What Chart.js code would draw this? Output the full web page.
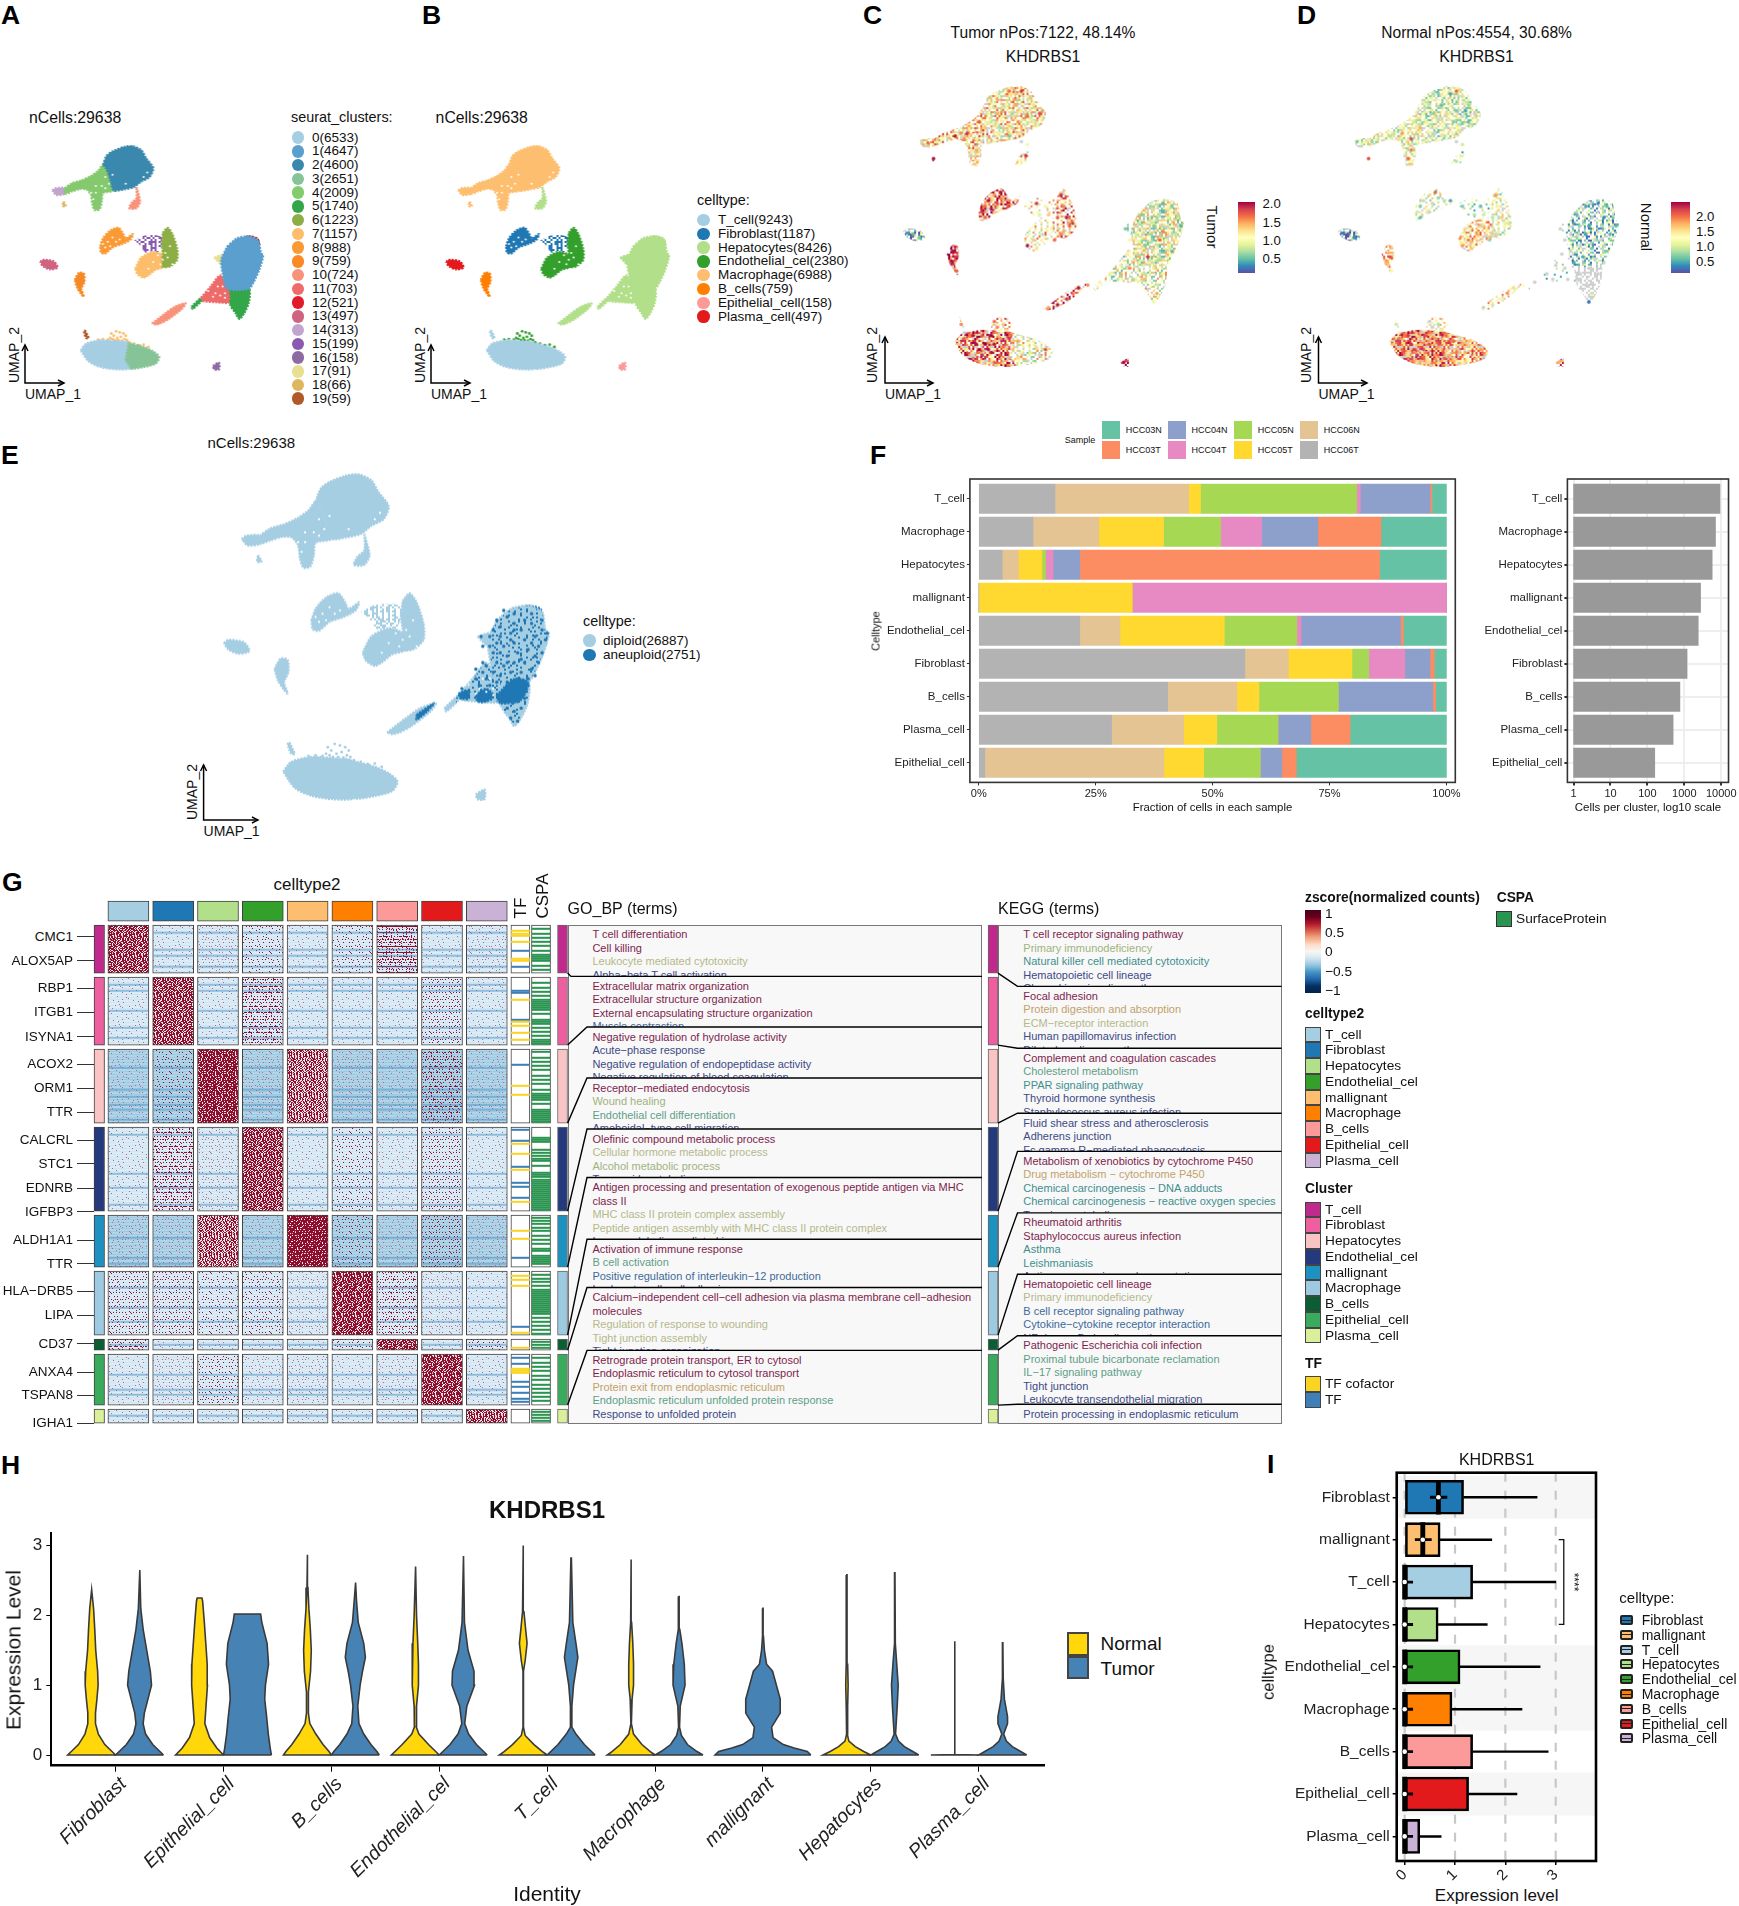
<!DOCTYPE html>
<html>
<head>
<meta charset="utf-8">
<script src="https://cdn.jsdelivr.net/npm/chart.js"></script>
<style>
html, body { margin: 0; background: #fff; }
#page { position: relative; width: 1739px; height: 1906px; overflow: hidden; font-family: "Liberation Sans", Arial, sans-serif; color: #111; }
#page canvas, #page svg { position: absolute; }
.t { position: absolute; white-space: nowrap; line-height: 1; }
.b { position: absolute; box-sizing: border-box; }
</style>
</head>
<body>
<div id="page"></div>
<script>
// ---- UMAP outlines ----
const umapTop = [[43,96.5],[44.5,100.5],[47,102.5],[52,104.5],[55.5,104.8],[59,103],[61,99.5],[64,95],[62.5,91],[59,89],[56,86.5],[52,85.5],[47.5,85],[46,90],[44.5,94.5]];
const umapArmLeft = [[27,86],[30,88.2],[34,89.5],[38,91.5],[41,93.8],[43,96.5],[44.5,94.5],[46,90],[47.5,85],[43,83.8],[42.5,80],[41.5,76.5],[39.5,76.2],[38.5,79],[38,83],[36,85.5],[33,85.5],[30,84.5],[27,83.5]];
const umapTip = [[21.8,85],[23.2,86],[27,86],[27,83.5],[23.5,83]];
const umapMini = [[26.5,80],[27.5,78],[26.2,78]];
const umapArmRight = [[57,86.5],[58.5,80],[57,77],[54,77],[55,79.5],[57,81.5]];
const umapCrescent = [[41.8,60],[43,63.5],[46,67],[49.5,68.3],[51.5,65.5],[52.5,63.5],[55.5,65.5],[54.5,63],[51,61],[47,59.5],[44,56.8],[42.2,57.2]];
const umapSparse = [[56,62.5],[60,64.7],[65,65],[67.5,64],[66.5,57.5],[64,58],[61,57],[58,61]];
const umapLeaf = [[68,66],[70,68.3],[72,65.5],[74,59],[74,54],[71,51],[68,51],[68,57],[67.5,61]];
const umapLower = [[56.5,50],[59,55],[64,57.5],[68,56],[69,51],[65,49.5],[62,47],[60,46],[57.5,47.5]];
const umapSmallLeft = [[16.7,53],[18,54],[22.5,53.2],[24,50.5],[21,49.7],[18,51]];
const umapSmallOrange = [[31.2,45],[33,48.2],[35,47.8],[35.2,44],[34,41],[35,37.5],[34,38.5],[32.2,41.5]];
const umapBody = [[95,60],[99,63.5],[104,64.5],[108,62.5],[109,57],[110,56],[108.5,50],[106,44],[104,41],[95,41],[93,48],[92.5,54]];
const umapBigTop = [[101.5,63.5],[104,64.5],[107.5,63.5],[108.2,60.5],[106,59.5],[102,61]];
const umapBigLeft = [[84,37],[88,42],[92,47],[95,42],[95.5,35],[90,35],[85,35.5]];
const umapBigBottom = [[95,41],[104,41],[104,35],[102,30],[100,27.5],[98.5,30],[96,34]];
const umapBigYellow = [[89.5,55],[93,56],[92.5,52]];
const umapTail = [[63.5,25.5],[69,30],[73,33],[77.5,34.5],[76,32],[70.5,27.5],[67,25.5],[65,25]];
const umapThin = [[80,33],[84,37],[84.5,36],[80.5,32]];
const umapBottomLeft = [[33.7,13.5],[36,16.5],[42,18],[50,17.5],[53,17],[52,9],[54,5.3],[48,5],[42,6],[37,8.5]];
const umapBottomRight = [[53,17],[60,15],[64,13],[66.5,10.5],[65,7.5],[60,6],[54,5.3],[52,9]];
const umapBits = [[46,18],[46.5,21.5],[49.5,22.5],[52.5,21.5],[52.5,17.5]];
const umapStem = [[35.5,22.5],[37,19],[36,19],[35,22]];
const umapLone = [[89,6.5],[91.5,8],[91.5,5],[89.5,5]];
const umapRegions = [umapTop,umapArmLeft,umapTip,umapMini,umapArmRight,umapCrescent,umapSparse,umapLeaf,umapLower,umapSmallLeft,umapSmallOrange,umapBody,umapBigTop,umapBigLeft,umapBigBottom,umapBigYellow,umapTail,umapThin,umapBottomLeft,umapBottomRight,umapBits,umapStem,umapLone];

// loose cells above the bottom cloud, drawn instead of the umapBits outline in A, B, E
const umapBitsDots = [[46,19],[46.5,21],[47.5,20],[48.5,22],[49,19],[50,21.5],[50.5,19.5],[51.5,21],[52,18.5],[52.5,20],[47,18.5],[49.5,18],[51,17.8],[48,18],[45,18.3],[43,18.5],[41,18.3],[53,18],[54,17],[56,16.5],[58,15.8],[60,16],[62,15]];

// white holes in the cell clouds
const umapGaps = [[37,82],[38,84],[40,84],[42.5,87],[44,86],[45.5,88],[47,92],[44,91],[40,87],[30,83.5],[34,85],[60,91],[61.5,93],[58,87],[52.5,88],[39,81],[45,62],[47,64],[46,60],[48.5,62],[50,63],[44,59.5],[43,61],[68,54],[70,55],[72,52],[66,56],[67,52],[69,57],[71,60],[64,53],[62,50],[91,42],[92,38],[90,39],[87,40],[93,42],[94,39],[89,37.5],[96,33],[94,37],[93,34]];

// panel C / D expression spots
const spotsTop = [[46,97],[48,100],[50,102],[52,103],[54,102],[56,103],[58,101],[60,98],[62,95],[60,92],[57,90],[55,92],[53,95],[50,93],[48,95],[46,92],[49,88],[52,87],[55,88],[58,94],[51,98],[54,98],[56,96],[49,90],[47,87],[44,90],[42,92],[40,89],[38,88],[36,88],[34,87],[32,87],[30,86],[28,85],[25,84.5],[23,85],[41,86],[43,85],[41,82],[40,79],[40.5,77],[56,85],[58,84],[57.5,80],[56,78],[26.8,79],[59,96],[53,90],[45,95],[37,86]];
const spotsMid = [[43,60],[44,62],[45,64],[47,66],[49,67],[50,65],[48,63],[46,61],[44,58],[47,60],[52,64],[54,64],[58,62],[61,63],[64,62],[62,59],[65,59],[69,66],[70,62],[71,58],[72,55],[70,53],[68,58],[73,56],[69,52],[66,54],[63,52],[60,50],[58,48],[61,47],[64,51],[67,50],[59,54],[18,52.5],[20,52],[22,51],[33,46],[34,44],[33,42],[34.5,39]];
const spotsBig = [[96,59],[99,62],[103,63],[106,62],[108,58],[105,58],[101,58],[97,55],[94,52],[99,52],[103,53],[107,52],[105,48],[101,47],[97,48],[94,46],[98,44],[102,43],[106,46],[100,40],[103,38],[97,38],[99,34],[101,31],[100,28],[91,45],[89,41],[86,38],[92,40],[88,36],[93,36],[96,36],[95,42],[109,55],[95,56],[103,60],[100,55],[104,50],[96,51],[102,50],[75,33],[73,31],[71,29],[68,27],[65,26],[82,35],[78,34],[90.5,54],[105,42],[92,50]];
const spotsBottom = [[35,13],[37,15],[40,16],[43,16],[46,16],[49,15],[52,15],[55,14],[58,13],[61,12],[64,11],[38,11],[41,13],[44,13],[47,13],[50,12],[53,11],[56,10],[59,10],[62,9],[40,9],[43,9],[46,10],[49,9],[52,8],[55,8],[58,7],[44,7],[47,6.5],[50,6],[37,17],[48,19],[50,20],[47,21],[51,18],[45,11],[42,11],[60,14],[90,6.5],[36,20]];
const tumorTop = [1.2,1.5,1.1,1.7,1.4,1.9,1.0,1.3,1.8,.9,1.2,1.6,.7,1.1,1.5,.8,1.0,.6,1.3,1.7,1.0,1.5,1.2,.7,0,1.4,1.8,1.1,1.9,1.6,2.0,1.3,1.0,.9,1.7,.8,1.2,0,1.5,1.1,1.4,0,1.0,1.9,1.2,2.0,1.3,.8,1.0,1.6];
const normalTop = [.9,1.2,.7,1.4,.5,2.1,1.0,.8,0,.6,1.3,.7,1.6,0,.8,1.1,0,.9,1.4,0,.6,1.2,.7,1.5,0,1.8,1.0,1.4,1.9,1.2,.9,1.3,1.0,.8,1.1,.7,2.2,1.3,2.0,2.1,1.7,0,1.0,1.1,.9,2.2,.5,0,1.2,1.6];
const tumorMid = [1.9,1.7,2.0,1.6,2.0,1.5,1.8,2.0,1.7,1.4,1.6,1.3,1.1,1.9,1.2,.9,1.4,1.9,1.6,2.0,1.7,1.5,1.8,1.9,1.6,1.2,0,1.4,2.0,1.3,1.0,1.7,1.1,.4,.5,.6,2.0,1.9,2.0,1.7];
const normalMid = [1.0,.7,0,1.6,2.1,.8,0,1.2,.6,0,.9,.5,.7,1.3,.6,.9,1.0,1.9,1.4,1.7,1.2,1.1,.9,1.6,0,1.5,1.8,2.0,1.9,1.7,1.4,.8,1.6,.3,.2,.4,1.6,2.2,1.8,1.4];
const tumorBig = [.6,.7,.5,.6,.8,.9,.7,1.1,.9,.7,1.6,.8,.9,1.2,.6,1.0,1.9,.7,.5,1.3,1.0,.8,1.1,1.5,1.0,1.2,.9,1.0,1.6,.8,.7,1.4,.9,.5,.8,.5,.6,1.0,.9,1.7,2.0,1.7,1.9,2.0,1.5,1.2,1.6,.6,1.1,1.0];
const normalBig = [.6,.5,.4,.6,.7,.4,0,.8,0,.5,0,.6,0,.7,0,0,.5,0,.7,0,0,0,0,1.0,.3,0,0,0,0,0,0,0,.5,.6,.5,0,.5,0,.8,0,1.6,1.9,1.2,1.0,0,0,1.3,0,0,0];
const tumorBottom = [1.4,1.7,2.0,1.8,2.1,1.6,1.9,1.5,1.1,1.3,1.8,1.0,2.0,2.1,2.0,1.7,1.4,1.2,.9,0,0,1.9,2.0,1.8,1.5,1.3,0,0,1.7,1.4,0,1.6,1.4,1.7,1.3,2.0,2.1,1.2,2.0,1.6];
const normalBottom = [1.7,2.0,2.3,1.6,2.2,1.9,1.5,2.1,1.8,1.4,1.9,2.1,2.3,1.7,2.2,1.9,1.6,2.0,1.8,1.5,1.6,2.3,2.0,1.9,2.1,1.7,1.4,1.8,1.6,1.5,1.2,0,.9,0,1.1,2.2,2.3,1.7,1.8,1.0];

// panel E aneuploid cells
const aneuploidSpots = [[96,58],[98,61],[100,59],[96,55],[99,56],[102,57],[105,59],[108,57],[106,55],[103,54],[100,53],[97,52],[94,50],[95,53],[93,55],[98,49],[101,50],[104,51],[107,52],[109,54],[106,49],[103,47],[100,47],[97,46],[95,47],[92,46],[94,44],[91,44],[89,42],[92,42],[99,44],[102,44],[105,45],[107,47],[104,42],[101,41],[98,41],[95,41],[93,40],[90,40],[87,38],[85,39],[103,38],[100,37],[97,37],[98,33],[100,32],[102,33],[101,29],[99,30],[90.5,55],[91,52],[95,60],[100,62],[97,63],[109.5,56],[108,60],[105,62],[93,52],[96,50],[99,54],[102,48],[105,53],[108,50],[91,47],[89,45],[94,57],[103,60],[100,57],[98,47],[96,43],[104,40],[106,43],[101,35],[103,36]];
const aneuploidPatches = [[[72,31],[77,34.5],[75,32],[72,29.5]],[[89,37],[92,39],[94,37],[92,35],[89.5,35]],[[95,37],[100,42],[104,41],[102,35.5],[96,34.5]],[[84,37.5],[86.5,38.5],[87,36],[84.5,36]]];
const aneuploidCover = [0,0,0,0,0,0,0,0,0,0,0,.1,0,.16,.08,0,0,.1,0,0,0,0,0];

// region colours per panel, same order as umapRegions
const clusterFills = ['#3a88ae','#85c96e','#c2a5cf','#e0b560','#f7937a','#fb9a35','#8a5ab0','#8cae45','#fdbd6a','#cf6380','#f58a25','#5a9fce','#e31a2a','#ef6a6a','#33a64a','#e6e090','#f7937a','#33a64a','#a6cee3','#86c497','#fdbd6a','#b15928','#8e6aa2'];
const celltypeFills = ['#fdbf6f','#fdbf6f','#fdbf6f','#fdbf6f','#b2df8a','#1f78b4','#1f78b4','#33a02c','#33a02c','#e31a1c','#ff7f00','#b2df8a','#b2df8a','#b2df8a','#b2df8a','#b2df8a','#b2df8a','#b2df8a','#a6cee3','#a6cee3','#33a02c','#a6cee3','#fb9a99'];
// mean expression and how much of each region is covered, panels C and D
const tumorRegionMean = [1.2,1.3,1.2,1.5,1.2,1.7,1.2,1.5,1.2,.5,1.9,1.0,.8,1.0,1.05,.6,1.7,1.2,1.6,1.1,1.4,1.4,1.9];
const tumorRegionCover = [.75,.7,.7,.4,.35,.8,.15,.55,.3,.7,.85,.8,.8,.5,.5,.3,.45,.2,.85,.45,.3,.3,.6];
const normalRegionMean = [1.1,1.2,1.1,.9,.9,1.2,.9,1.2,1.6,.5,1.8,.7,.6,.8,0,.8,1.5,1,1.95,1.8,1.4,1.2,1.9];
const normalRegionCover = [.65,.65,.6,.2,.15,.2,.12,.4,.7,.65,.65,.45,.35,.03,.45,.03,.25,.02,.95,.88,.3,.2,.6];

// legends
const clusterNames = ['0(6533)','1(4647)','2(4600)','3(2651)','4(2009)','5(1740)','6(1223)','7(1157)','8(988)','9(759)','10(724)','11(703)','12(521)','13(497)','14(313)','15(199)','16(158)','17(91)','18(66)','19(59)'];
const clusterColors = ['#a6cee3','#5a9fce','#3a88ae','#86c497','#82cc6e','#33a64a','#8cae45','#fdbd6a','#fb9a35','#fa8a25','#f7937a','#ef6a6a','#e31a2a','#cf6380','#c2a5cf','#8a5ab0','#8e6aa2','#e6e090','#e0b560','#b15928'];
const typeCountNames = ['T_cell(9243)','Fibroblast(1187)','Hepatocytes(8426)','Endothelial_cel(2380)','Macrophage(6988)','B_cells(759)','Epithelial_cell(158)','Plasma_cell(497)'];
const typeCountColors = ['#a6cee3','#1f78b4','#b2df8a','#33a02c','#fdbf6f','#ff7f00','#fb9a99','#e31a1c'];
const spectralStops = ['#5e4fa2','#3288bd','#66c2a5','#abdda4','#e6f598','#ffffbf','#fee08b','#fdae61','#f46d43','#d53e4f','#9e0142'];

// panel F
const sampleNames = ['HCC06T','HCC06N','HCC05T','HCC05N','HCC04T','HCC04N','HCC03T','HCC03N'];
const sampleColors = ['#b3b3b3','#e5c494','#ffd92f','#a6d854','#e78ac3','#8da0cb','#fc8d62','#66c2a5'];
const fractionTypes = ['T_cell','Macrophage','Hepatocytes','mallignant','Endothelial_cel','Fibroblast','B_cells','Plasma_cell','Epithelial_cell'];
const fractionRows = [
  [16.3,28.6,2.5,33.4,0.8,14.9,0.4,3.1],
  [11.6,14.1,13.8,12.2,8.8,12,13.5,14],
  [5,3.5,5,0.8,1.6,5.7,64.1,14.3],
  [0,0,32.8,0,67.2,0,0,0],
  [21.6,8.6,22.3,15.5,0.9,21.3,0.6,9.2],
  [56.9,9.3,13.6,3.6,7.7,5.4,0.9,2.6],
  [40.4,14.8,4.7,17,0,20.2,0.6,2.3],
  [28.4,15.4,7.1,13.1,0,7,8.4,20.6],
  [1.3,38.3,8.5,12.1,0,4.6,3.1,32.1]
];
const cellsPerCluster = [9243,6988,5675,2751,2380,1187,759,497,158];

// panel G
const heatColumns = ['T_cell','Fibroblast','Hepatocytes','Endothelial_cel','mallignant','Macrophage','B_cells','Epithelial_cell','Plasma_cell'];
const heatColumnColors = ['#a6cee3','#1f78b4','#b2df8a','#33a02c','#fdbf6f','#ff7f00','#fb9a99','#e31a1c','#cab2d6'];
const clusterBarColors = ['#c02a8c','#ee5fa0','#fbc4c4','#253a7d','#1d91c0','#9ecae1','#0b5d33','#3aaa5c','#d9ef9a'];
const clusterGeneCounts = [48,68,74,84,52,64,11,51,14];
const heatRed = [
  [56,1,4,5,1,5,28,1,3],
  [1,56,1,18,1,1,1,8,1],
  [2,5,72,4,42,4,2,14,2],
  [1,18,4,56,1,5,2,8,1],
  [3,4,42,3,78,5,3,8,3],
  [8,8,5,6,4,62,12,4,1],
  [14,1,1,1,1,6,60,1,6],
  [1,4,6,3,3,1,3,62,1],
  [1,1,1,1,1,1,1,1,48]
];
const heatDarkRows = [2,4];
const heatStripes = [[7,24,30,41],[7,13,33,50,60],[18,40,47,55,60,70],[7,46,60,77],[22,42,48],[16,36,50],[5],[20,35,40],[6]];
const tfYellow = [[5,8,10,16,33,35],[22,44,48,55,62],[36,45],[16,26,42,74],[15,23],[4,8,14,61],[8],[14,16,18],[]];
const tfBlue = [[25,41],[13,15,42],[15],[2,13,39,55,59,70],[42],[55],[],[3,9,27,32,38,44,47],[]];
const cspaGreen = [[3,8,12,16,20,25,29,31,33,35,40,44],[5,10,14,18,22,24,26,28,30,32,36,42,44,46,50,54,58,62,64,66],[2,8,12,16,20,26,30,34,40,44,46,48,50,54,60,62,64,66,68,70,72],[10,12,14,22,25,28,31,33,38,45,47,49,52,54,56,58,60,62,64,66,68,70,72,74,76,78,80,82],[2,5,8,12,15,20,24,28,33,35,40,42,44,46,48],[3,7,10,14,18,20,22,24,26,28,30,32,34,36,38,40,42,46,50,54,58,62],[2,5,8],[3,8,12,16,21,25,30,34,38,42,46],[2,5,8,11]];
const geneLabels = ['CMC1','ALOX5AP','RBP1','ITGB1','ISYNA1','ACOX2','ORM1','TTR','CALCRL','STC1','EDNRB','IGFBP3','ALDH1A1','TTR','HLA\u2212DRB5','LIPA','CD37','ANXA4','TSPAN8','IGHA1'];
const geneRows = [11.5,35.5,63.3,87,111.4,139,163,187,215,238.6,263,286.7,315,338.5,366.3,390.3,418.4,447,470.2,498.3];

const goTerms = [
  [['T cell differentiation','m'],['Cell killing','m'],['Leukocyte mediated cytotoxicity','k'],['Alpha\u2212beta T cell activation','n']],
  [['Extracellular matrix organization','m'],['Extracellular structure organization','m'],['External encapsulating structure organization','m'],['Muscle contraction','b']],
  [['Negative regulation of hydrolase activity','m'],['Acute\u2212phase response','n'],['Negative regulation of endopeptidase activity','n'],['Negative regulation of blood coagulation','n']],
  [['Receptor\u2212mediated endocytosis','m'],['Wound healing','s'],['Endothelial cell differentiation','g'],['Ameboidal\u2212type cell migration','n']],
  [['Olefinic compound metabolic process','m'],['Cellular hormone metabolic process','k'],['Alcohol metabolic process','s'],['Terpenoid metabolic process','n']],
  [['Antigen processing and presentation of exogenous peptide antigen via MHC','m'],['class II','m'],['MHC class II protein complex assembly','k'],['Peptide antigen assembly with MHC class II protein complex','k'],['Immunoglobulin mediated immune response','n']],
  [['Activation of immune response','m'],['B cell activation','g'],['Positive regulation of interleukin\u221212 production','b'],['Leukocyte cell\u2212cell adhesion','n']],
  [['Calcium\u2212independent cell\u2212cell adhesion via plasma membrane cell\u2212adhesion','m'],['molecules','m'],['Regulation of response to wounding','k'],['Tight junction assembly','k'],['Tight junction organization','n']],
  [['Retrograde protein transport, ER to cytosol','m'],['Endoplasmic reticulum to cytosol transport','m'],['Protein exit from endoplasmic reticulum','o'],['Endoplasmic reticulum unfolded protein response','g'],['Response to unfolded protein','n']]
];
const keggTerms = [
  [['T cell receptor signaling pathway','m'],['Primary immunodeficiency','s'],['Natural killer cell mediated cytotoxicity','t'],['Hematopoietic cell lineage','n'],['Chemokine signaling pathway','n']],
  [['Focal adhesion','m'],['Protein digestion and absorption','o'],['ECM\u2212receptor interaction','k'],['Human papillomavirus infection','n'],['Dilated cardiomyopathy','n']],
  [['Complement and coagulation cascades','m'],['Cholesterol metabolism','g'],['PPAR signaling pathway','t'],['Thyroid hormone synthesis','n'],['Staphylococcus aureus infection','n']],
  [['Fluid shear stress and atherosclerosis','n'],['Adherens junction','n'],['Fc gamma R\u2212mediated phagocytosis','n']],
  [['Metabolism of xenobiotics by cytochrome P450','m'],['Drug metabolism \u2212 cytochrome P450','o'],['Chemical carcinogenesis \u2212 DNA adducts','t'],['Chemical carcinogenesis \u2212 reactive oxygen species','t'],['Tyrosine metabolism','n']],
  [['Rheumatoid arthritis','m'],['Staphylococcus aureus infection','m'],['Asthma','t'],['Leishmaniasis','t'],['Antigen processing and presentation','n']],
  [['Hematopoietic cell lineage','m'],['Primary immunodeficiency','k'],['B cell receptor signaling pathway','b'],['Cytokine\u2212cytokine receptor interaction','b'],['NF\u2212kappa B signaling pathway','n']],
  [['Pathogenic Escherichia coli infection','m'],['Proximal tubule bicarbonate reclamation','g'],['IL\u221217 signaling pathway','g'],['Tight junction','n'],['Leukocyte transendothelial migration','n']],
  [['Protein processing in endoplasmic reticulum','n']]
];
const termColors = { m:'#7e1e4e', k:'#b5b98a', s:'#9fb37e', t:'#3f8f8f', n:'#3c4a86', b:'#3d6a9a', o:'#c2a26a', g:'#5f9f88' };

// panel H, each profile is [expression level, relative half width]
const violinTypes = ['Fibroblast','Epithelial_cell','B_cells','Endothelial_cel','T_cell','Macrophage','mallignant','Hepatocytes','Plasma_cell'];
const normalViolins = [
  [[0,1],[.05,.85],[.15,.55],[.3,.28],[.45,.16],[.6,.16],[.8,.22],[1,.27],[1.2,.25],[1.5,.17],[1.8,.13],[2.1,.08],[2.37,0]],
  [[0,1],[.1,.72],[.25,.42],[.45,.22],[.7,.27],[1,.33],[1.3,.32],[1.6,.26],[1.9,.2],[2.2,.13],[2.25,.1]],
  [[0,1],[.05,.9],[.15,.65],[.3,.35],[.45,.1],[.6,.04],[.9,.04],[1.2,.13],[1.5,.16],[1.8,.12],[2.1,.06],[2.4,.02],[2.87,.01]],
  [[0,1],[.05,.85],[.15,.55],[.3,.15],[.4,.04],[.7,.05],[1,.13],[1.3,.13],[1.6,.1],[2,.05],[2.7,.01]],
  [[0,1],[.05,.8],[.15,.45],[.28,.08],[.4,.01],[1.2,.01],[1.35,.08],[1.6,.16],[1.8,.1],[2.05,.03],[3,.005]],
  [[0,1],[.05,.8],[.15,.45],[.3,.1],[.45,.01],[.8,.04],[1,.1],[1.3,.1],[1.6,.07],[1.9,.02],[2.8,.005]],
  null,
  [[0,1],[.05,.7],[.12,.35],[.2,.08],[.3,.015],[.7,.03],[1,.05],[1.3,.03],[2.58,.005]],
  [[0,1],[.005,.005],[1.63,.005]]
];
const tumorViolins = [
  [[0,1],[.05,.85],[.15,.55],[.3,.25],[.45,.15],[.6,.2],[.8,.35],[1,.5],[1.2,.45],[1.5,.3],[1.8,.15],[2.1,.05],[2.65,.01]],
  [[0,1],[.1,.95],[.3,.87],[.55,.8],[.8,.72],[1,.75],[1.3,.88],[1.6,.82],[1.9,.6],[2.02,.55]],
  [[0,1],[.05,.9],[.15,.65],[.3,.35],[.45,.15],[.7,.1],[1,.2],[1.2,.3],[1.4,.42],[1.6,.35],[1.9,.12],[2.2,.05],[2.47,.01]],
  [[0,1],[.05,.85],[.15,.55],[.3,.22],[.45,.06],[.7,.15],[1,.47],[1.2,.45],[1.5,.2],[1.9,.05],[2.85,.01]],
  [[0,1],[.05,.85],[.15,.55],[.3,.2],[.4,.03],[.7,.03],[1,.1],[1.4,.28],[1.6,.2],[1.9,.07],[2.82,.01]],
  [[0,1],[.05,.75],[.15,.35],[.28,.1],[.4,.02],[.7,.05],[1,.25],[1.3,.22],[1.6,.12],[1.8,.03],[2.27,.005]],
  [[0,2],[.05,1.85],[.1,1.3],[.15,.85],[.25,.42],[.4,.36],[.6,.72],[.8,.72],[1,.56],[1.2,.4],[1.3,.15],[1.5,.06],[1.7,.02],[2.1,.005]],
  [[0,1],[.05,.75],[.12,.4],[.2,.15],[.3,.03],[.7,.1],[1,.14],[1.3,.08],[1.6,.02],[2.62,.005]],
  [[0,1],[.05,.75],[.12,.4],[.2,.15],[.3,.04],[.45,.2],[.55,.2],[.8,.07],[1.1,.02],[1.62,.005]]
];

// panel I
const boxTypes = ['Fibroblast','mallignant','T_cell','Hepatocytes','Endothelial_cel','Macrophage','B_cells','Epithelial_cell','Plasma_cell'];
const boxColors = ['#1f78b4','#fdbf6f','#a6cee3','#b2df8a','#33a02c','#ff7f00','#fb9a99','#e31a1c','#cab2d6'];
const boxQ3 = [1.17,0.705,1.35,0.665,1.1,0.94,1.35,1.27,0.3];
const boxMedian = [0.67,0.36,0,0,0,0,0,0,0];
const boxWhisker = [2.63,1.73,3,1.64,2.69,2.33,2.85,2.23,0.725];
const boxNotchLow = [0.51,0.21,-0.05,-0.05,-0.05,-0.05,-0.05,-0.05,-0.05];
const boxNotchHigh = [0.84,0.53,0.16,0.16,0.16,0.16,0.16,0.16,0.16];
const boxShadedRows = [0,4,5,7];

// speckle tile for the heatmap, base 36 digits, with a gain per tile row for the faint cells
const speckleTile = ['k3z9a7q1mx5t0fw2r8ju','p6c0vh4yb2ns8gi1oe7l','2tx8d5wk0rz3j9qa6um4','ga1nf7s3pe6ly0ci9vh2','y4o8u2mj5xb1tk7wd3zr','1cq6hl9ev0ag4ns8pf2i','w7t3k0zr5dj2oy6ub9mx','e2in8gc4qs1fv7ha3lp0','5uy9bm3xo6tw0rkj2dz8','hf0al7pv2ne5ig9sc4q1','r8d3kx6tz1wm4uyb7oj5','9sl2ei0gq7cf3ph8na6v','m4jw6uo1by9dx5rt2kz0','3ap7nv8ch2si0le6gq9f','t0zk5rd4jm7ow1yu3xb8','i6ge9qf2la3vp5nc0hs7','b1yo4xu8tk6zr2jd7mw9','v5hs3pn0ic7gq1fa8el4','x2dm8jz9wr4bu6ot0yk3','6lc1fq5ag8ev2hn7si0p'];
const speckleRowGain = [2.6,.3,.3,1.6,.2,.2,.2,3.2,.2,.4,1,.2,.2,2.8,.3,.2,.2,1.6,.2,.3];

// ---- helpers ----
const page = document.getElementById('page');
Chart.defaults.font.family = '"Liberation Sans", Arial, sans-serif';
Chart.defaults.color = '#222';

Chart.register({
  id: 'frame',
  afterDraw(chart, args, opts) {
    if (!opts.color) return;
    const a = chart.chartArea, ctx = chart.ctx;
    ctx.save();
    ctx.strokeStyle = opts.color;
    ctx.lineWidth = opts.width || 1;
    ctx.strokeRect(a.left, a.top, a.right - a.left, a.bottom - a.top);
    ctx.restore();
  }
});

function makeChart(left, top, width, height, config) {
  const c = document.createElement('canvas');
  c.width = width; c.height = height;
  c.style.left = left + 'px'; c.style.top = top + 'px';
  c.style.width = width + 'px'; c.style.height = height + 'px';
  page.appendChild(c);
  config.options = Object.assign({ responsive: false, animation: false, events: [] }, config.options);
  config.options.plugins = Object.assign({ legend: { display: false }, tooltip: { enabled: false } }, config.options.plugins);
  return new Chart(c.getContext('2d'), config);
}

function txt(x, y, s, o) {
  o = o || {};
  const d = document.createElement('div');
  d.className = 't';
  d.textContent = s;
  d.style.left = x + 'px'; d.style.top = y + 'px';
  d.style.fontSize = (o.size || 14) + 'px';
  if (o.bold) d.style.fontWeight = 'bold';
  if (o.color) d.style.color = o.color;
  const tx = o.anchor === 'c' ? '-50%' : o.anchor === 'r' ? '-100%' : '0';
  d.style.transform = 'translate(' + tx + ',-50%)' + (o.rot ? ' rotate(' + o.rot + 'deg)' : '');
  page.appendChild(d);
  return d;
}

function box(x, y, w, h, bg, border, round) {
  const d = document.createElement('div');
  d.className = 'b';
  d.style.cssText = 'left:' + x + 'px;top:' + y + 'px;width:' + w + 'px;height:' + h + 'px;background:' + bg + ';' + (border ? 'border:' + border + ';' : '') + (round ? 'border-radius:' + round + ';' : '');
  page.appendChild(d);
  return d;
}

function toPoints(list) { return list.map(p => ({ x: p[0], y: p[1] })); }

function mixHex(a, b, t) {
  const pa = [1,3,5].map(i => parseInt(a.substr(i,2),16)), pb = [1,3,5].map(i => parseInt(b.substr(i,2),16));
  return 'rgb(' + pa.map((v,i) => Math.round(v + (pb[i]-v)*t)).join(',') + ')';
}
function spectral(t) {
  t = Math.max(0, Math.min(1, t)) * (spectralStops.length - 1);
  const i = Math.min(Math.floor(t), spectralStops.length - 2);
  return mixHex(spectralStops[i], spectralStops[i+1], t - i);
}

function regionSet(points, fill, edge) {
  const closed = toPoints(points.concat([points[0]]));
  return { data: closed, showLine: true, fill: 'shape', backgroundColor: fill, borderColor: edge === false ? 'transparent' : (edge || fill), borderWidth: edge === false ? 0 : 2.2, borderDash: [2,1.2], pointRadius: 0, tension: 0.25 };
}
function spotSet(points, colors, radius) {
  return { data: toPoints(points), showLine: false, pointRadius: radius, pointBorderWidth: 0, pointBackgroundColor: colors };
}

// L,T: pixel of umap (16.5,105); sx,sy: pixels per umap unit
function umapChart(L, T, sx, sy, datasets) {
  makeChart(L - 1.5*sx, T - 3*sy, 97*sx, 106*sy, {
    type: 'scatter',
    data: { datasets },
    options: { scales: { x: { type:'linear', display:false, min:15, max:112 }, y: { type:'linear', display:false, min:2, max:108 } } }
  });
}
// dots of one colour over an optional base, from the speckle tile
function dotTexture(color, cover, base) {
  const c = document.createElement('canvas');
  c.width = 40; c.height = 40;
  const g = c.getContext('2d');
  if (base) { g.fillStyle = base; g.fillRect(0, 0, 40, 40); }
  g.fillStyle = color;
  speckleTile.forEach((row, y) => {
    for (let x = 0; x < 20; x++) {
      if (parseInt(row[x], 36) / 36 < cover) g.fillRect(x*2, y*2, 2, 2);
    }
  });
  return g.createPattern(c, 'repeat');
}
function fillRegions(fills) {
  return umapRegions.map((r, i) => {
    if (r === umapBits) return spotSet(umapBitsDots, fills[i], 1.4);
    if (r === umapSparse) return regionSet(r, dotTexture(fills[i], 0.42), false);
    return regionSet(r, fills[i]);
  });
}
function exprSets(values, maxV) {
  const lists = [[spotsTop,values[0]],[spotsMid,values[1]],[spotsBig,values[2]],[spotsBottom,values[3]]];
  return lists.map(l => spotSet(l[0], l[1].map(v => v === 0 ? '#cfcfcf' : spectral((v - 0.15)/(maxV - 0.15))), 1.8));
}
// dotted fill for the C and D clouds, built from the speckle tile
function exprTexture(mean, cover, maxV) {
  const c = document.createElement('canvas');
  c.width = 40; c.height = 40;
  const g = c.getContext('2d');
  speckleTile.forEach((row, y) => {
    for (let x = 0; x < 20; x++) {
      const v = parseInt(row[x], 36);
      if (v / 36 >= cover) continue;
      const mixer = (x*7 + y*13 + v) % 36;
      if (mean === 0 || mixer < 6) g.fillStyle = '#cfcfcf';
      else g.fillStyle = spectral((mean + (mixer/36 - 0.55)*1.3 - 0.15)/(maxV - 0.15));
      g.fillRect(x*2, y*2, 2, 2);
    }
  });
  return g.createPattern(c, 'repeat');
}
function textureRegions(means, covers, maxV) {
  return umapRegions.map((r, i) => regionSet(r, exprTexture(means[i], covers[i], maxV), false));
}

const ov = document.createElementNS('http://www.w3.org/2000/svg', 'svg');
function overlayPath(d, stroke, width) {
  const p = document.createElementNS('http://www.w3.org/2000/svg', 'path');
  p.setAttribute('d', d); p.setAttribute('fill', 'none');
  p.setAttribute('stroke', stroke || '#000'); p.setAttribute('stroke-width', width || 1.5);
  ov.appendChild(p);
}
function umapAxes(x0, y0, yTop, xRight, textX, labelX) {
  overlayPath('M' + x0 + ' ' + yTop + 'L' + x0 + ' ' + y0 + 'L' + xRight + ' ' + y0);
  overlayPath('M' + (x0-3) + ' ' + (yTop+6) + 'L' + x0 + ' ' + yTop + 'L' + (x0+3) + ' ' + (yTop+6));
  overlayPath('M' + (xRight-6) + ' ' + (y0-3) + 'L' + xRight + ' ' + y0 + 'L' + (xRight-6) + ' ' + (y0+3));
  txt(textX, y0 + 10.5, 'UMAP_1', { size: 14 });
  txt(labelX, y0 - 28, 'UMAP_2', { size: 14, anchor: 'c', rot: -90 });
}

function dotLegend(x, textX, y0, pitch, names, colors, r, size) {
  names.forEach((n, i) => {
    box(x - r, y0 + i*pitch - r, r*2, r*2, colors[i], null, '50%');
    txt(textX, y0 + i*pitch, n, { size: size });
  });
}

// ---- panel letters ----
[['A',1,15],['B',422,15],['C',863,15],['D',1297,15],['E',1,455],['F',870,455],['G',2,882],['H',1,1465],['I',1267,1464]].forEach(l => txt(l[1], l[2], l[0], { size: 26.5, bold: true, color: '#000' }));

// ---- panel A, B ----
umapChart(36, 141.7, 2.47, 2.315, [spotSet(umapGaps, '#fff', 1)].concat(fillRegions(clusterFills)));
umapChart(442, 141.7, 2.47, 2.315, [spotSet(umapGaps, '#fff', 1)].concat(fillRegions(celltypeFills)));
txt(29, 118, 'nCells:29638', { size: 15.8 });
txt(435.6, 118, 'nCells:29638', { size: 15.8 });
txt(291, 117, 'seurat_clusters:', { size: 14.4 });
dotLegend(298, 312, 137.7, 13.74, clusterNames, clusterColors, 6.3, 13.5);
txt(697, 200, 'celltype:', { size: 14.4 });
dotLegend(703.7, 718, 220, 13.8, typeCountNames, typeCountColors, 6.3, 13.5);
umapAxes(25, 383, 345, 64, 25, 14);
umapAxes(431, 383, 345, 470, 431, 420);

// ---- panel C, D ----
umapChart(899, 81.7, 3.09, 2.883, exprSets([tumorTop,tumorMid,tumorBig,tumorBottom], 2.06).concat(textureRegions(tumorRegionMean, tumorRegionCover, 2.06)));
umapChart(1333.6, 81.7, 3.09, 2.883, exprSets([normalTop,normalMid,normalBig,normalBottom], 2.52).concat(textureRegions(normalRegionMean, normalRegionCover, 2.52)));
txt(1043, 33, 'Tumor nPos:7122, 48.14%', { size: 15.6, anchor: 'c' });
txt(1043, 57, 'KHDRBS1', { size: 15.8, anchor: 'c' });
txt(1476.6, 33, 'Normal nPos:4554, 30.68%', { size: 15.6, anchor: 'c' });
txt(1476.6, 57, 'KHDRBS1', { size: 15.8, anchor: 'c' });
umapAxes(885, 383, 337, 933, 885, 872);
umapAxes(1318.5, 383, 337, 1367, 1318.5, 1305.6);
const spectralCss = 'linear-gradient(to top,' + spectralStops.join(',') + ')';
box(1238, 201.7, 17, 71, spectralCss);
box(1671, 201.7, 18.6, 71, spectralCss);
[['2.0',204],['1.5',222.7],['1.0',241],['0.5',259.3]].forEach(t => txt(1262.5, t[1], t[0], { size: 13.2 }));
[['2.0',217.3],['1.5',232.3],['1.0',247.3],['0.5',262.3]].forEach(t => txt(1696, t[1], t[0], { size: 13.2 }));
txt(1211.5, 226.7, 'Tumor', { size: 15, anchor: 'c', rot: 90 });
txt(1646.4, 226.7, 'Normal', { size: 15, anchor: 'c', rot: 90 });

// ---- panel E ----
umapChart(219, 470, 3.57, 3.33, [spotSet(aneuploidSpots, '#1f78b4', 1.7), spotSet(umapGaps, '#fff', 1.1)]
  .concat(aneuploidPatches.map(p => regionSet(p, '#1f78b4')))
  .concat(umapRegions.map((r, i) => {
    if (r === umapBits) return spotSet(umapBitsDots, '#a6cee3', 1.4);
    if (r === umapSparse) return regionSet(r, dotTexture('#a6cee3', 0.42), false);
    if (r === umapBigTop) return regionSet(r, '#1f78b4');
    if (aneuploidCover[i]) return regionSet(r, dotTexture('#1f78b4', aneuploidCover[i], '#a6cee3'), '#a6cee3');
    return regionSet(r, '#a6cee3');
  })));
txt(207.5, 442, 'nCells:29638', { size: 15 });
txt(583, 620.5, 'celltype:', { size: 14.4 });
dotLegend(589.5, 603, 640.5, 14.3, ['diploid(26887)','aneuploid(2751)'], ['#a6cee3','#1f78b4'], 6.3, 13.5);
umapAxes(203.6, 820, 765, 258, 203.6, 192);

// ---- panel F ----
function fixedTicks(values) { return s => { s.ticks = values.map(value => ({ value })); }; }
const rowTicks = fixedTicks([0,1,2,3,4,5,6,7,8]);

const fractionSets = sampleNames.map((name, si) => ({
  label: name,
  backgroundColor: sampleColors[si],
  barThickness: 29.3,
  grouped: false,
  data: fractionRows.map((row, ri) => {
    const start = row.slice(0, si).reduce((a, b) => a + b, 0);
    return { x: [start, start + row[si]], y: ri };
  })
}));
makeChart(880, 469.3, 590, 338, {
  type: 'bar',
  data: { datasets: fractionSets },
  options: {
    indexAxis: 'y',
    layout: { padding: { top: 10, right: 14.7 } },
    plugins: { frame: { color: '#333', width: 1.6 } },
    scales: {
      x: { type:'linear', min:-1.9, max:101.9, border:{display:false}, grid:{drawOnChartArea:false,tickLength:3,color:'#333'},
           afterBuildTicks: fixedTicks([0,25,50,75,100]), afterFit: s => { s.height = 24.6; },
           ticks:{ callback: v => v + '%', font:{size:11}, color:'#222', maxRotation:0, padding:2 } },
      y: { type:'linear', reverse:true, offset:false, min:-0.597, max:8.597, border:{display:false}, grid:{offset:false,drawOnChartArea:false,tickLength:3,color:'#333'},
           afterBuildTicks: rowTicks, afterFit: s => { s.width = 89.9; },
           ticks:{ callback: v => fractionTypes[v], font:{size:11.5}, color:'#222', autoSkip:false, padding:2 } }
    }
  }
});
makeChart(1480, 469.3, 259, 338, {
  type: 'bar',
  data: { datasets: [{ data: cellsPerCluster.map((v, i) => ({ x: [1, v], y: i })), backgroundColor: '#999999', barThickness: 29.3 }] },
  options: {
    indexAxis: 'y',
    layout: { padding: { top: 10, right: 10.1 } },
    plugins: { frame: { color: '#333', width: 1.6 } },
    scales: {
      x: { type:'logarithmic', min:0.68, max:15740, border:{display:false}, grid:{color:'#eeeeee',lineWidth:2,tickColor:'#333',tickLength:3},
           afterBuildTicks: fixedTicks([1,10,100,1000,10000]), afterFit: s => { s.height = 24.6; },
           ticks:{ callback: v => String(v), font:{size:11}, color:'#222', maxRotation:0, autoSkip:false, padding:2 } },
      y: { type:'linear', reverse:true, offset:false, min:-0.597, max:8.597, border:{display:false}, grid:{offset:false,color:'#eeeeee',lineWidth:2,tickColor:'#333',tickLength:3},
           afterBuildTicks: rowTicks, afterFit: s => { s.width = 87.4; },
           ticks:{ callback: v => fractionTypes[v], font:{size:11.5}, color:'#222', autoSkip:false, padding:2 } }
    }
  }
});
txt(1212.5, 808, 'Fraction of cells in each sample', { size: 11.4, anchor: 'c' });
txt(1648, 808, 'Cells per cluster, log10 scale', { size: 11.5, anchor: 'c' });
txt(875.7, 630.7, 'Celltype', { size: 11, anchor: 'c', rot: -90 });
txt(1080, 440, 'Sample', { size: 9, anchor: 'c' });
[[1102,7,6],[1167.7,5,4],[1234,3,2],[1300,1,0]].forEach(c => {
  box(c[0], 421, 18, 18.3, sampleColors[c[1]]);
  box(c[0], 441, 18, 18.3, sampleColors[c[2]]);
  txt(c[0] + 23.7, 430, sampleNames[c[1]], { size: 9 });
  txt(c[0] + 23.7, 450.3, sampleNames[c[2]], { size: 9 });
});

// ---- panel G: enrichment boxes come first, the bars sit on top ----
function termBoxes(seps, elbows, barBottoms, left, right, textLeft, groups) {
  box(left, seps[0], right - left, seps[seps.length-1] - seps[0], '#f8f8f8', '1px solid #777');
  groups.forEach((lines, i) => {
    const b = box(left + 1, seps[i] + 1, right - left - 2, seps[i+1] - seps[i] - 1, 'transparent');
    b.style.overflow = 'hidden';
    lines.forEach((l, k) => {
      const d = document.createElement('div');
      d.className = 't';
      d.textContent = l[0];
      d.style.cssText = 'left:' + (textLeft - left - 1) + 'px;top:' + (2.5 + k*13.5) + 'px;font-size:11px;line-height:13.5px;color:' + termColors[l[1]];
      b.appendChild(d);
    });
    if (i > 0) {
      overlayPath('M' + left + ' ' + barBottoms[i-1] + 'L' + elbows[i-1] + ' ' + seps[i] + 'L' + right + ' ' + seps[i], '#000', 1.4);
    }
  });
}
const bandTops = [];
clusterGeneCounts.reduce((y, n, i) => { bandTops[i] = y; return y + n + 4; }, 0);
const bandBottomPx = clusterGeneCounts.map((n, i) => 925.1 + bandTops[i] + n);
termBoxes([924.6,976.4,1027,1078,1129,1177.5,1239.3,1287.5,1350.4,1423.6],
  [571,587,587,587,587,587,587,587], bandBottomPx, 567.6, 982, 592.4, goTerms);
termBoxes([924.6,986.4,1048.2,1113.2,1151.4,1212.9,1274.3,1335.7,1404.3,1423.6],
  [1017.5,1017.5,1017.5,1017.5,1017.5,1017.5,1017.5,1017.5], bandBottomPx, 998, 1281.6, 1023.3, keggTerms);

const speckleCache = {};
function speckle(base1, base2, percent) {
  const key = base1 + percent;
  if (speckleCache[key]) return speckleCache[key];
  const c = document.createElement('canvas');
  c.width = 20; c.height = 20;
  const g = c.getContext('2d');
  const strong = percent > 35;
  speckleTile.forEach((row, y) => {
    const gain = strong ? 1 : speckleRowGain[y];
    for (let x = 0; x < 20; x++) {
      const v = parseInt(row[x], 36);
      if (v < percent * 0.36 * gain) g.fillStyle = percent < 5 ? '#b46a86' : '#8e0c2c';
      else if (strong) g.fillStyle = v % 5 === 0 ? '#d9a9b2' : '#f3ecee';
      else g.fillStyle = y % 3 === 0 ? base1 : base2;
      g.fillRect(x, y, 1, 1);
    }
  });
  speckleCache[key] = g.createPattern(c, 'repeat');
  return speckleCache[key];
}

const annotX = { left:-0.65, tf:8.75, cspa:9.21, go:9.69, kegg:19.3 };
const heatCells = [], heatFills = [], stripeCells = [];
heatRed.forEach((row, r) => {
  const dark = heatDarkRows.includes(r);
  const top = bandTops[r], n = clusterGeneCounts[r];
  row.forEach((p, col) => {
    heatCells.push({ x: col, y: [top, top + n] });
    heatFills.push(speckle(dark ? '#9ccae3' : '#cfe5f2', dark ? '#b0d5e9' : '#dbecf6', p));
    if (p < 35) heatStripes[r].forEach(s => stripeCells.push({ x: col, y: [top + s, top + s + 1.3] }));
  });
});
function bandMarks(lists, x) {
  const out = [];
  lists.forEach((l, r) => l.forEach(s => out.push({ x, y: [bandTops[r] + s, bandTops[r] + s + 1.4] })));
  return out;
}
function bandBars(x) { return clusterGeneCounts.map((n, r) => ({ x, y: [bandTops[r], bandTops[r] + n] })); }
function floatSet(data, color, thick, border, order) {
  return { data, backgroundColor: color, barThickness: thick, borderColor: border || 'transparent', borderWidth: border ? 1 : 0, borderSkipped: false, grouped: false, order };
}
makeChart(90, 899, 910, 527, {
  type: 'bar',
  data: { datasets: [
    floatSet(stripeCells, 'rgba(62,134,190,0.45)', 39, null, 1),
    floatSet(heatCells, heatFills, 41, '#3f3f3f', 3),
    floatSet(heatColumns.map((c, i) => ({ x: i, y: [-24, -4] })), heatColumnColors, 41, '#3f3f3f', 3),
    floatSet(bandMarks(tfYellow, annotX.tf), '#f9d423', 18, null, 1),
    floatSet(bandMarks(tfBlue, annotX.tf), '#3f7fb8', 18, null, 1),
    floatSet(bandMarks(cspaGreen, annotX.cspa), '#2a9450', 18, null, 1),
    floatSet(bandBars(annotX.tf), '#fff', 19, '#3f3f3f', 3),
    floatSet(bandBars(annotX.cspa), '#fff', 19, '#3f3f3f', 3),
    floatSet(bandBars(annotX.left), clusterBarColors, 10.5, '#3f3f3f', 3),
    floatSet(bandBars(annotX.go), clusterBarColors, 10, '#666', 3),
    floatSet(bandBars(annotX.kegg), clusterBarColors, 10, '#666', 3)
  ] },
  options: { scales: {
    x: { type:'linear', display:false, offset:false, grid:{offset:false}, min:-0.857, max:19.455 },
    y: { type:'linear', display:false, reverse:true, min:-26.1, max:500.9 }
  } }
});
geneLabels.forEach((g, i) => {
  const y = 925.1 + geneRows[i];
  txt(73, y, g, { size: 13.5, anchor: 'r' });
  box(77, y - 0.5, 16.5, 1, '#333');
});
txt(307, 884, 'celltype2', { size: 17, anchor: 'c' });
txt(520, 908, 'TF', { size: 17, anchor: 'c', rot: -90 });
txt(541.8, 896, 'CSPA', { size: 17, anchor: 'c', rot: -90 });
txt(567.6, 909, 'GO_BP (terms)', { size: 16 });
txt(998, 909, 'KEGG (terms)', { size: 16 });

// ---- panel G legends ----
txt(1305, 898.3, 'zscore(normalized counts)', { size: 13.8, bold: true });
box(1305, 910, 16, 83.3, 'linear-gradient(to bottom,#4d0018,#67001f,#b2182b,#d6604d,#f4a582,#fddbc7,#f7f7f7,#d1e5f0,#92c5de,#4393c3,#2166ac,#053061,#04224a)');
[['1',914],['0.5',933.3],['0',952.3],['\u22120.5',971.7],['\u22121',990.7]].forEach(t => txt(1325, t[1], t[0], { size: 13.7 }));
txt(1496.7, 898.3, 'CSPA', { size: 13.8, bold: true });
box(1496, 910.7, 16, 16, '#2a9450', '1px solid #333');
txt(1516, 918.7, 'SurfaceProtein', { size: 13.7 });
function squareLegend(title, titleY, y0, names, colors) {
  txt(1305, titleY, title, { size: 13.8, bold: true });
  names.forEach((n, i) => {
    box(1305, y0 + i*15.75, 16, 15.75, colors[i], '1px solid #444');
    txt(1325, y0 + i*15.75 + 8, n, { size: 13.7 });
  });
}
squareLegend('celltype2', 1014.3, 1026.7, heatColumns, heatColumnColors);
squareLegend('Cluster', 1189.3, 1201.6, ['T_cell','Fibroblast','Hepatocytes','Endothelial_cel','mallignant','Macrophage','B_cells','Epithelial_cell','Plasma_cell'], clusterBarColors);
squareLegend('TF', 1363.5, 1376, ['TF cofactor','TF'], ['#f9d423','#3f7fb8']);

// ---- panel H ----
function violinSet(profile, center, color) {
  const hw = 0.222;
  const right = profile.map(p => ({ x: center + p[1]*hw, y: p[0] }));
  const left = profile.slice().reverse().map(p => ({ x: center - p[1]*hw, y: p[0] }));
  const pts = right.concat(left, [right[0]]);
  return { data: pts, showLine: true, fill: 'shape', backgroundColor: color, borderColor: '#3a3a3a', borderWidth: 1.6, pointRadius: 0, tension: 0 };
}
const violinSets = [];
violinTypes.forEach((name, i) => {
  const c = i + 1;
  if (normalViolins[i]) {
    violinSets.push(violinSet(normalViolins[i], c - 0.222, '#ffd70a'));
    violinSets.push(violinSet(tumorViolins[i], c + 0.222, '#4682b4'));
  } else {
    violinSets.push(violinSet(tumorViolins[i], c, '#4682b4'));
  }
});
makeChart(0, 1518, 1047, 370, {
  type: 'scatter',
  data: { datasets: violinSets },
  options: {
    layout: { padding: { top: 15, right: 2.4 } },
    scales: {
      x: { type:'linear', min:0.404, max:9.61, border:{color:'#000',width:2.5}, grid:{drawOnChartArea:false,color:'#000',tickLength:6},
           afterBuildTicks: fixedTicks([1,2,3,4,5,6,7,8,9]), afterFit: s => { s.height = 122.3; },
           ticks:{ callback: v => violinTypes[v-1], font:{size:19.5,style:'italic'}, color:'#222', autoSkip:false, minRotation:45, maxRotation:45, padding:1, labelOffset:8 } },
      y: { type:'linear', min:-0.153, max:3.18, border:{color:'#000',width:2}, grid:{drawOnChartArea:false,color:'#000',tickLength:5},
           afterBuildTicks: fixedTicks([0,1,2,3]), afterFit: s => { s.width = 51.3; },
           ticks:{ font:{size:17}, color:'#222', padding:4 } }
    }
  }
});
txt(547, 1510, 'KHDRBS1', { size: 24, bold: true, anchor: 'c' });
txt(13, 1650, 'Expression Level', { size: 21, anchor: 'c', rot: -90 });
txt(547, 1893, 'Identity', { size: 21, anchor: 'c' });
box(1067, 1632, 22, 23.5, '#ffd70a', '2px solid #444');
box(1067, 1655.5, 22, 23.5, '#4682b4', '2px solid #444');
txt(1100.5, 1643, 'Normal', { size: 19 });
txt(1100.5, 1668, 'Tumor', { size: 19 });

// ---- panel I ----
function xBar(list, thick, color, order) {
  return { data: list, backgroundColor: color, barThickness: thick, grouped: false, order };
}
const dashSets = [0,1,2,3].map(v => ({ type:'scatter', showLine:true, data:[{x:v,y:-0.58},{x:v,y:8.58}], borderColor:'#c8c8c8', borderWidth:2.2, borderDash:[9,9], pointRadius:0, order:5 }));
makeChart(1270, 1460, 330, 425, {
  type: 'bar',
  data: { datasets: [
    { type:'scatter', data: boxMedian.map((m, i) => ({ x:m, y:i })), pointRadius:2.3, pointBackgroundColor:'#fff', pointBorderWidth:0, showLine:false, order:0 },
    { type:'scatter', showLine:true, data:[{x:3.06,y:1},{x:3.16,y:1},{x:3.16,y:3},{x:3.06,y:3}], borderColor:'#111', borderWidth:1.3, pointRadius:0, order:0 },
    xBar(boxNotchLow.map((a, i) => ({ x:[a, boxNotchHigh[i]], y:i })), 2.2, '#000', 1),
    xBar(boxMedian.map((m, i) => ({ x:[m-0.042, m+0.042], y:i })), 34, '#000', 2),
    { data: boxQ3.map((q, i) => ({ x:[0, q], y:i })), backgroundColor: boxColors, borderColor:'#000', borderWidth:2.6, borderSkipped:false, barThickness:34, grouped:false, order:3 },
    xBar(boxWhisker.map((w, i) => ({ x:[boxQ3[i], w], y:i })), 1.8, '#000', 4),
    ...dashSets,
    xBar(boxShadedRows.map(r => ({ x:[-0.158, 3.8], y:r })), 42.3, '#f6f6f6', 6)
  ] },
  options: {
    indexAxis: 'y',
    layout: { padding: { top: 12.7, right: 3.3 } },
    plugins: { frame: { color: '#000', width: 2.6 } },
    scales: {
      x: { type:'linear', min:-0.158, max:3.8, border:{display:false}, grid:{drawOnChartArea:false,color:'#000',tickLength:4,lineWidth:1.5},
           afterBuildTicks: fixedTicks([0,1,2,3]), afterFit: s => { s.height = 24; },
           ticks:{ font:{size:15}, color:'#222', minRotation:45, maxRotation:45, padding:1, autoSkip:false } },
      y: { type:'linear', reverse:true, offset:false, min:-0.58, max:8.58, border:{display:false}, grid:{offset:false,drawOnChartArea:false,color:'#000',tickLength:4,lineWidth:1.5},
           afterBuildTicks: rowTicks, afterFit: s => { s.width = 126.7; },
           ticks:{ callback: v => boxTypes[v], font:{size:15.5}, color:'#222', autoSkip:false, padding:3 } }
    }
  }
});
txt(1496.7, 1460, 'KHDRBS1', { size: 16, anchor: 'c' });
txt(1496.7, 1895, 'Expression level', { size: 17, anchor: 'c' });
txt(1268, 1671.7, 'celltype', { size: 16.5, anchor: 'c', rot: -90 });
txt(1574, 1582, '****', { size: 12, anchor: 'c', rot: 90 });
txt(1619.3, 1596.7, 'celltype:', { size: 15 });
boxTypes.forEach((n, i) => {
  const y = 1620 + i*14.8;
  box(1620, y - 5, 13, 10, boxColors[i], '2px solid #222', '2px');
  box(1620, y - 0.5, 13, 1, '#222');
  txt(1641.7, y, n, { size: 14 });
});

// overlay goes last
ov.setAttribute('width', 1739); ov.setAttribute('height', 1906);
ov.style.left = 0; ov.style.top = 0; ov.style.pointerEvents = 'none';
page.appendChild(ov);
</script>
</body>
</html>
